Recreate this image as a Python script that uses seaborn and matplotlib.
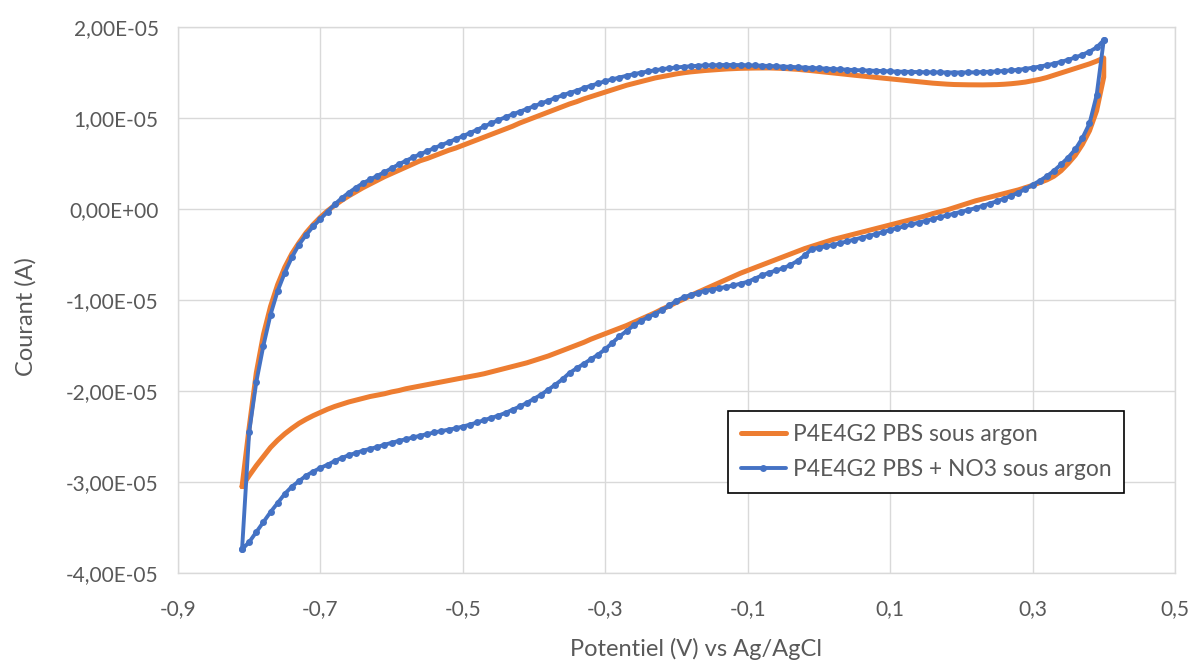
import matplotlib
matplotlib.use("Agg")
import matplotlib.pyplot as plt
from matplotlib.ticker import FuncFormatter
import pandas as pd
import seaborn as sns

# potential grid (V vs Ag/AgCl), shared by both scans
potential = [
    -0.81, -0.80, -0.79, -0.78, -0.77, -0.76, -0.75, -0.74, -0.73, -0.72,
    -0.71, -0.70, -0.69, -0.68, -0.67, -0.66, -0.65, -0.64, -0.63, -0.62,
    -0.61, -0.60, -0.59, -0.58, -0.57, -0.56, -0.55, -0.54, -0.53, -0.52,
    -0.51, -0.50, -0.49, -0.48, -0.47, -0.46, -0.45, -0.44, -0.43, -0.42,
    -0.41, -0.40, -0.39, -0.38, -0.37, -0.36, -0.35, -0.34, -0.33, -0.32,
    -0.31, -0.30, -0.29, -0.28, -0.27, -0.26, -0.25, -0.24, -0.23, -0.22,
    -0.21, -0.20, -0.19, -0.18, -0.17, -0.16, -0.15, -0.14, -0.13, -0.12,
    -0.11, -0.10, -0.09, -0.08, -0.07, -0.06, -0.05, -0.04, -0.03, -0.02,
    -0.01, 0.00, 0.01, 0.02, 0.03, 0.04, 0.05, 0.06, 0.07, 0.08,
    0.09, 0.10, 0.11, 0.12, 0.13, 0.14, 0.15, 0.16, 0.17, 0.18,
    0.19, 0.20, 0.21, 0.22, 0.23, 0.24, 0.25, 0.26, 0.27, 0.28,
    0.29, 0.30, 0.31, 0.32, 0.33, 0.34, 0.35, 0.36, 0.37, 0.38,
    0.39, 0.40,
]

# currents in units of 1e-5 A, listed in the order of the potential grid
# upper branch = anodic scan, lower branch = return scan
pbs_upper = [
    -3.05, -2.40, -1.80, -1.38, -1.07, -0.83, -0.64, -0.49, -0.37, -0.26,
    -0.17, -0.09, -0.02, 0.04, 0.095, 0.145, 0.19, 0.235, 0.275, 0.315,
    0.355, 0.39, 0.425, 0.46, 0.495, 0.53, 0.555, 0.585, 0.615, 0.645,
    0.67, 0.70, 0.73, 0.76, 0.79, 0.82, 0.85, 0.88, 0.91, 0.945,
    0.975, 1.005, 1.035, 1.065, 1.095, 1.125, 1.155, 1.18, 1.21, 1.235,
    1.26, 1.285, 1.31, 1.335, 1.36, 1.38, 1.40, 1.42, 1.44, 1.455,
    1.47, 1.485, 1.497, 1.507, 1.515, 1.522, 1.528, 1.534, 1.539, 1.543,
    1.546, 1.548, 1.549, 1.55, 1.55, 1.548, 1.545, 1.54, 1.535, 1.528,
    1.52, 1.512, 1.503, 1.495, 1.487, 1.478, 1.47, 1.462, 1.454, 1.446,
    1.438, 1.43, 1.422, 1.414, 1.406, 1.398, 1.39, 1.383, 1.377, 1.372,
    1.368, 1.366, 1.365, 1.364, 1.364, 1.365, 1.367, 1.371, 1.377, 1.385,
    1.395, 1.41, 1.425, 1.445, 1.47, 1.495, 1.52, 1.545, 1.57, 1.595,
    1.625, 1.66,
]
pbs_lower = [
    -3.05, -2.93, -2.82, -2.72, -2.62, -2.54, -2.47, -2.41, -2.355, -2.31,
    -2.27, -2.235, -2.20, -2.17, -2.145, -2.12, -2.10, -2.08, -2.06, -2.045,
    -2.03, -2.01, -1.995, -1.975, -1.96, -1.945, -1.93, -1.915, -1.90, -1.885,
    -1.87, -1.855, -1.84, -1.826, -1.81, -1.79, -1.77, -1.75, -1.73, -1.71,
    -1.69, -1.665, -1.64, -1.615, -1.585, -1.555, -1.525, -1.495, -1.465, -1.43,
    -1.40, -1.37, -1.34, -1.31, -1.28, -1.245, -1.21, -1.175, -1.14, -1.10,
    -1.065, -1.025, -0.99, -0.95, -0.915, -0.88, -0.845, -0.81, -0.775, -0.74,
    -0.705, -0.675, -0.645, -0.615, -0.585, -0.555, -0.525, -0.495, -0.465, -0.435,
    -0.41, -0.385, -0.36, -0.335, -0.315, -0.295, -0.275, -0.255, -0.235, -0.215,
    -0.195, -0.175, -0.155, -0.135, -0.115, -0.095, -0.075, -0.05, -0.03, -0.01,
    0.015, 0.04, 0.065, 0.09, 0.11, 0.13, 0.15, 0.17, 0.19, 0.21,
    0.235, 0.26, 0.29, 0.32, 0.36, 0.42, 0.50, 0.59, 0.71, 0.86,
    1.08, 1.45,
]
no3_upper = [
    -3.74, -2.45, -1.90, -1.50, -1.16, -0.90, -0.70, -0.53, -0.39, -0.285,
    -0.19, -0.11, -0.03, 0.05, 0.12, 0.18, 0.235, 0.285, 0.325, 0.365,
    0.405, 0.448, 0.49, 0.53, 0.567, 0.602, 0.635, 0.67, 0.703, 0.735,
    0.767, 0.80, 0.836, 0.87, 0.908, 0.942, 0.975, 1.01, 1.04, 1.07,
    1.10, 1.13, 1.16, 1.19, 1.22, 1.25, 1.276, 1.30, 1.33, 1.355,
    1.38, 1.405, 1.425, 1.445, 1.465, 1.482, 1.498, 1.512, 1.525, 1.537,
    1.547, 1.556, 1.563, 1.569, 1.574, 1.578, 1.58, 1.582, 1.583, 1.583,
    1.582, 1.58, 1.578, 1.575, 1.572, 1.569, 1.566, 1.562, 1.558, 1.554,
    1.55, 1.546, 1.542, 1.538, 1.534, 1.53, 1.527, 1.524, 1.521, 1.518,
    1.515, 1.512, 1.51, 1.508, 1.506, 1.504, 1.503, 1.502, 1.501, 1.50,
    1.50, 1.50, 1.501, 1.502, 1.505, 1.508, 1.512, 1.517, 1.523, 1.53,
    1.54, 1.552, 1.565, 1.58, 1.597, 1.617, 1.64, 1.665, 1.695, 1.73,
    1.775, 1.855,
]
no3_lower = [
    -3.74, -3.66, -3.55, -3.44, -3.33, -3.23, -3.13, -3.05, -2.99, -2.93,
    -2.885, -2.845, -2.81, -2.77, -2.735, -2.705, -2.68, -2.655, -2.635, -2.615,
    -2.59, -2.57, -2.548, -2.53, -2.51, -2.49, -2.473, -2.455, -2.44, -2.425,
    -2.41, -2.39, -2.37, -2.345, -2.32, -2.295, -2.27, -2.24, -2.205, -2.17,
    -2.13, -2.085, -2.04, -1.985, -1.93, -1.87, -1.80, -1.75, -1.70, -1.65,
    -1.60, -1.54, -1.47, -1.40, -1.34, -1.28, -1.23, -1.19, -1.15, -1.11,
    -1.06, -1.01, -0.97, -0.945, -0.92, -0.90, -0.885, -0.87, -0.855, -0.84,
    -0.82, -0.80, -0.765, -0.73, -0.70, -0.675, -0.65, -0.615, -0.57, -0.51,
    -0.44, -0.425, -0.41, -0.395, -0.375, -0.355, -0.335, -0.315, -0.295, -0.275,
    -0.255, -0.23, -0.21, -0.19, -0.17, -0.15, -0.13, -0.11, -0.09, -0.07,
    -0.05, -0.03, -0.01, 0.01, 0.035, 0.06, 0.085, 0.115, 0.145, 0.18,
    0.22, 0.265, 0.31, 0.36, 0.42, 0.49, 0.565, 0.655, 0.78, 0.94,
    1.25, 1.855,
]

series_names = ["P4E4G2 PBS sous argon", "P4E4G2 PBS + NO3 sous argon"]
x_ticks = [-0.9, -0.7, -0.5, -0.3, -0.1, 0.1, 0.3, 0.5]
y_ticks = [-4e-5, -3e-5, -2e-5, -1e-5, 0.0, 1e-5, 2e-5]


def cycle_frame(upper, lower):
    # anodic scan up to the vertex, then back down the lower branch
    volts = potential + potential[::-1]
    amps = [v * 1e-5 for v in upper + lower[::-1]]
    return pd.DataFrame({"potential": volts, "current": amps})


pbs_df = cycle_frame(pbs_upper, pbs_lower)
no3_df = cycle_frame(no3_upper, no3_lower)

sns.set_style("white")
plt.rcParams["font.family"] = ["Lato", "DejaVu Sans"]

fig = plt.figure(figsize=(11.92, 6.67), dpi=100)
ax = fig.add_axes([0.1493, 0.1409, 0.8364, 0.8186])

sns.lineplot(data=pbs_df, x="potential", y="current", sort=False,
             estimator=None, color="#ED7D31", linewidth=3.6,
             label=series_names[0], ax=ax)
sns.lineplot(data=no3_df, x="potential", y="current", sort=False,
             estimator=None, color="#4472C4", linewidth=2.8,
             marker="o", markersize=5, markeredgewidth=0,
             label=series_names[1], ax=ax)

ax.set_xlim(-0.9, 0.5)
ax.set_ylim(-4e-5, 2e-5)
ax.set_xticks(x_ticks)
ax.set_yticks(y_ticks)
ax.xaxis.set_major_formatter(FuncFormatter(lambda v, p: f"{v:.1f}".replace(".", ",")))
ax.yaxis.set_major_formatter(FuncFormatter(lambda v, p: f"{v:.2E}".replace(".", ",")))

ax.grid(True, color="#D9D9D9", linewidth=1.0)
ax.set_axisbelow(True)
for sp in ax.spines.values():
    sp.set_color("#D9D9D9")
    sp.set_linewidth(1.0)
ax.tick_params(length=0, labelsize=15, labelcolor="#595959")
ax.tick_params(axis="y", pad=14)
ax.tick_params(axis="x", pad=19)

ax.set_xlabel("Potentiel (V) vs Ag/AgCl", fontsize=17, color="#595959")
ax.set_ylabel("Courant (A)", fontsize=17, color="#595959")
ax.xaxis.set_label_coords(0.52, -0.118)
ax.yaxis.set_label_coords(-0.142, 0.47)

leg = ax.legend(loc="upper left", bbox_to_anchor=(0.5517, 0.2967),
                borderaxespad=0, frameon=True, fancybox=False,
                edgecolor="black", framealpha=1, fontsize=16.4,
                handlelength=2.0, handletextpad=0.3, borderpad=0.55,
                labelspacing=0.65)
leg.get_frame().set_linewidth(1.2)
for t in leg.get_texts():
    t.set_color("#595959")

fig.savefig("out.png", dpi=100)
